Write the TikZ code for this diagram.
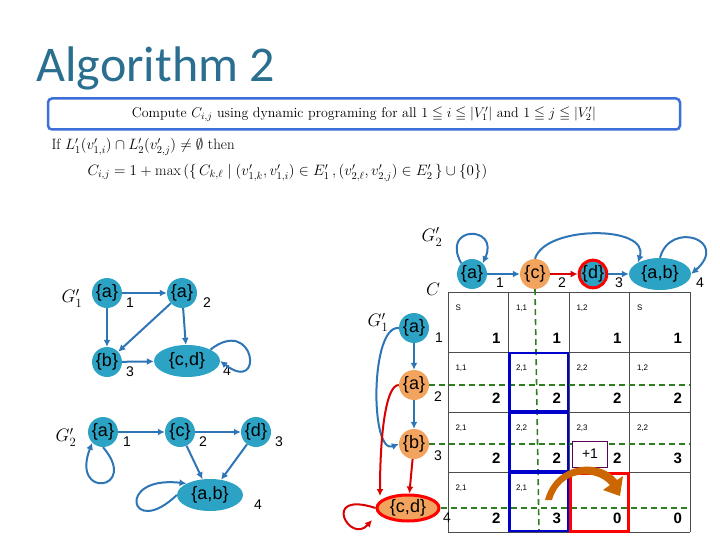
\RequirePackage{fix-cm}
\documentclass[tikz,border=0pt]{standalone}
\usepackage{amsmath,amssymb}
\usepackage{fontspec}
\setsansfont{Liberation Sans}
\newfontfamily\titlefont{Carlito}
\usetikzlibrary{arrows.meta,shapes.geometric}
\definecolor{teal}{HTML}{2CA3C4}
\definecolor{orng}{HTML}{F2A35E}
\definecolor{arrblue}{HTML}{2E75B6}
\definecolor{boxblue}{HTML}{3C6FD8}
\definecolor{titleblue}{HTML}{2A6F8F}
\definecolor{dgreen}{HTML}{2E7D1E}
\begin{document}
\begin{tikzpicture}[x=1pt,y=-1pt,
      vtx/.style ={circle, fill=teal, inner sep=0pt, minimum size=30pt, font=\sffamily\fontsize{18}{18}\selectfont},
      vell/.style ={ellipse, fill=teal, inner sep=0pt, minimum width=66pt, minimum height=32pt, font=\sffamily\fontsize{18}{18}\selectfont},
      idx/.style ={font=\sffamily\fontsize{14}{14}\selectfont},
      edge/.style ={arrblue, line width=2pt, -{Latex[length=7pt,width=7pt]}},
      redge/.style ={red!85!black, line width=2pt, -{Latex[length=7pt,width=7pt]}},
      grid/.style ={dgreen, line width=1.6pt, dash pattern=on 6pt off 4pt},
      small/.style ={font=\sffamily\fontsize{8}{8}\selectfont, anchor=west},
      big/.style ={font=\sffamily\bfseries\fontsize{15}{15}\selectfont, anchor=east}]
   \useasboundingbox (0,0) rectangle (720,540);
   % title and rule
   \node[anchor=west, text=titleblue, font=\titlefont\fontsize{50}{50}\selectfont] (title) at (33,68) {Algorithm 2};
   \node[draw=boxblue, line width=2.5pt, rounded corners=4pt, minimum width=632pt, minimum height=31pt,
         font=\fontsize{14}{14}\selectfont] (rule) at (364,114)
      {Compute $C_{i,j}$ using dynamic programing for all $1\leqq i \leqq |V'_1|$ and $1\leqq j \leqq |V'_2|$};
   \node[anchor=west, font=\fontsize{15}{15}\selectfont] (cond) at (48,147)
      {If $L'_1(v'_{1,i})\cap L'_2(v'_{2,j})\neq\emptyset$ then};
   \node[anchor=west, font=\fontsize{15}{15}\selectfont] (upd) at (84,173)
      {$C_{i,j}=1+\max\,(\{\,C_{k,\ell}\mid(v'_{1,k}, v'_{1,i})\in E'_1\,,(v'_{2,\ell}, v'_{2,j})\in E'_2\,\}\cup\{0\})$};

   % G'1 on the left
   \node[font=\fontsize{18}{18}\selectfont] (g1) at (72,298) {$G'_1$};
   \node[vtx] (A1) at (107,293) {\{a\}};
   \node[vtx] (A2) at (182,293) {\{a\}};
   \node[vtx] (B3) at (107,362) {\{b\}};
   \node[vell] (CD4) at (187,361) {\{c,d\}};
   \node[idx] at (130,303) {1};
   \node[idx] at (207,303) {2};
   \node[idx] at (130,372) {3};
   \node[idx] at (227,371) {4};
   \draw[edge] (A1) -- (A2);
   \draw[edge] (A1) -- (B3);
   \draw[edge] (A2) -- (B3);
   \draw[edge] (A2) -- (CD4);
   \draw[edge] (B3) -- (CD4);
   \draw[edge] (CD4.north east) .. controls (255,315) and (265,395) .. (CD4.east);

   % G'2 on the left
   \node[font=\fontsize{18}{18}\selectfont] (g2) at (66,437) {$G'_2$};
   \node[vtx] (P1) at (103,432) {\{a\}};
   \node[vtx] (P2) at (180,432) {\{c\}};
   \node[vtx] (P3) at (256,432) {\{d\}};
   \node[vell] (P4) at (210,495) {\{a,b\}};
   \node[idx] at (127,442) {1};
   \node[idx] at (203,442) {2};
   \node[idx] at (279,442) {3};
   \node[idx] at (258,505) {4};
   \draw[edge] (P1) -- (P2);
   \draw[edge] (P2) -- (P3);
   \draw[edge] (P2) -- (P4);
   \draw[edge] (P3) -- (P4);
   \draw[edge] (P1.south) .. controls (140,490) and (70,500) .. (P1.south west);
   \draw[edge] (P4.west) .. controls (130,540) and (115,475) .. (P4.north west);

   % table C
   \node[font=\fontsize{18}{18}\selectfont] (clab) at (433,289) {$C$};
   \foreach \x in {448,508.5,569,629.5,690}
     \draw[black!70, line width=0.6pt] (\x,292) -- (\x,532);
   \foreach \y in {292,352,412,472,532}
     \draw[black!70, line width=0.6pt] (448,\y) -- (690,\y);
   \foreach \r/\y in {1/292,2/352,3/412,4/472}{
     \foreach \c/\x in {1/448,2/508.5,3/569,4/629.5}{
       \coordinate (cell\r\c) at (\x,\y);
     }
   }
   \foreach \r/\c/\s/\v in {1/1/S/1,1/2/{1,1}/1,1/3/{1,2}/1,1/4/S/1,
                            2/1/{1,1}/2,2/2/{2,1}/2,2/3/{2,2}/2,2/4/{1,2}/2,
                            3/1/{2,1}/2,3/2/{2,2}/2,3/3/{2,3}/2,3/4/{2,2}/3,
                            4/1/{2,1}/2,4/2/{2,1}/3}{
     \node[small] at ([shift={(4,16)}]cell\r\c) {\s};
     \node[big] at ([shift={(56,46)}]cell\r\c) {\v};
   }
   \node[big] at ([shift={(56,46)}]cell43) {0};
   \node[big] at ([shift={(56,46)}]cell44) {0};

   % G'2 above the table
   \node[font=\fontsize{18}{18}\selectfont] (g2t) at (432,237) {$G'_2$};
   \node[vtx] (Q1) at (472,274) {\{a\}};
   \node[vtx, fill=orng] (Q2) at (535,274) {\{c\}};
   \node[vtx, draw=red, line width=3pt, minimum size=26pt] (Q3) at (593,274) {\{d\}};
   \node[vell, minimum width=62pt] (Q4) at (660,274) {\{a,b\}};
   \node[idx] at (500,283) {1};
   \node[idx] at (562,283) {2};
   \node[idx] at (619,283) {3};
   \node[idx] at (700,283) {4};
   \draw[edge] (Q1) -- (Q2);
   \draw[redge] (Q2) -- (Q3);
   \draw[edge] (Q3) -- (Q4);
   \draw[edge] (Q2.north) .. controls (545,225) and (650,225) .. (Q4.north west);
   \draw[edge] (Q1.north west) .. controls (440,225) and (500,225) .. (Q1.north east);
   \draw[edge] (Q4.north) .. controls (670,220) and (730,240) .. (Q4.east);

   % G'1 left of the table
   \node[font=\fontsize{18}{18}\selectfont] (g1t) at (378,322) {$G'_1$};
   \node[vtx] (R1) at (414,328) {\{a\}};
   \node[vtx, fill=orng] (R2) at (414,385) {\{a\}};
   \node[vtx, fill=orng] (R3) at (414,444) {\{b\}};
   \node[vell, fill=orng, draw=red, line width=3pt, minimum width=62pt, minimum height=26pt] (R4) at (408,508) {\{c,d\}};
   \node[idx] at (439,338) {1};
   \node[idx] at (438,397) {2};
   \node[idx] at (438,456) {3};
   \node[idx] at (447,518) {4};
   \draw[edge] (R1) -- (R2);
   \draw[edge] (R2) -- (R3);
   \draw[edge] (R1.west) .. controls (370,325) and (370,455) .. (R3.west);
   \draw[redge] (R3) -- (R4);
   \draw[redge] (R2.west) .. controls (385,385) and (380,440) .. (380,496);
   \draw[redge] (R4.west) .. controls (320,490) and (350,545) .. (372,520);

   % guide lines
   \draw[grid] (Q2.south) -- (539,532);
   \draw[grid] (R2.east) -- (690,385);
   \draw[grid] (R3.east) -- (690,444);
   \draw[grid] (R4.east) -- (690,508);

   % highlighted cells
   \foreach \r in {2,3,4}{
     \draw[blue!80!black, line width=2.5pt] ([shift={(1,1)}]cell\r2) rectangle ++(58.5,58);
   }
   \draw[red, line width=3pt] ([shift={(1,1)}]cell43) rectangle ++(58.5,58);
   \node[draw=violet!70!black, fill=white, line width=1pt, minimum width=35pt, minimum height=26pt,
         font=\sffamily\fontsize{14}{14}\selectfont] (plus) at (590,454) {+1};
   \fill[orange!80!black] (545,500) .. controls (555,462) and (600,458) .. (617,480)
        -- (623,476) -- (620,496) -- (603,490) -- (610,485)
        .. controls (595,468) and (560,470) .. (552,500) -- cycle;
 \end{tikzpicture}
\end{document}
